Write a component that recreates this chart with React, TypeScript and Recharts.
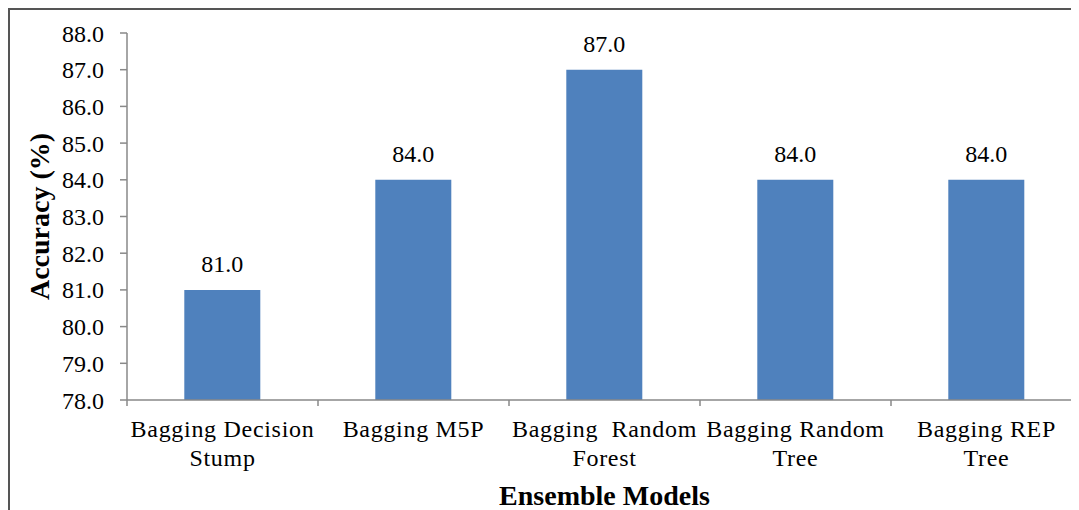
import { Bar, BarChart, LabelList, XAxis, YAxis } from "recharts";

const models = [
  "Bagging Decision Stump",
  "Bagging M5P",
  "Bagging  Random Forest",
  "Bagging Random Tree",
  "Bagging REP Tree",
];
const modelTickLines = [
  ["Bagging Decision", "Stump"],
  ["Bagging M5P"],
  ["Bagging\u00a0 Random", "Forest"],
  ["Bagging Random", "Tree"],
  ["Bagging REP", "Tree"],
];
const accuracy = [81.0, 84.0, 87.0, 84.0, 84.0];
const accuracyTicks = [78, 79, 80, 81, 82, 83, 84, 85, 86, 87, 88];

const data = models.map((model, i) => ({ model, accuracy: accuracy[i] }));

const FONT = '"Liberation Serif", "Times New Roman", serif';
const AXIS = "#898989";
const BAR = "#4F81BD";

function ModelTick(props: any) {
  const { x, y, payload, width } = props;
  const idx = models.indexOf(payload.value);
  const half = payload.offset ?? width / (models.length * 2);
  const lines = modelTickLines[idx] ?? [String(payload.value)];
  return (
    <g>
      <line x1={x - half} y1={y} x2={x - half} y2={y + 6} stroke={AXIS} strokeWidth={1.5} />
      {idx === models.length - 1 && (
        <line x1={x + half} y1={y} x2={x + half} y2={y + 6} stroke={AXIS} strokeWidth={1.5} />
      )}
      <text
        x={x}
        y={y + 37}
        textAnchor="middle"
        fontFamily={FONT}
        fontSize={24}
        letterSpacing={0.7}
        fill="#000"
      >
        {lines.map((line, i) => (
          <tspan key={i} x={x} dy={i === 0 ? 0 : 28.5}>
            {line}
          </tspan>
        ))}
      </text>
    </g>
  );
}

export default function App() {
  return (
    <div style={{ width: 1071, height: 502, overflow: "hidden" }}>
      <div
        style={{
          width: 1110,
          height: 520,
          borderTop: "2px solid #555",
          borderLeft: "2px solid #555",
          boxSizing: "border-box",
        }}
      >
        <BarChart
          width={1100}
          height={500}
          data={data}
          margin={{ top: 23, right: 28, bottom: 0, left: 0 }}
          barCategoryGap="30%"
        >
          <XAxis
            dataKey="model"
            height={110}
            tickLine={false}
            tickSize={0}
            tickMargin={0}
            tick={<ModelTick />}
            axisLine={{ stroke: AXIS, strokeWidth: 1.5 }}
            interval={0}
            label={{
              content: ({ viewBox }: any) => (
                <text
                  x={viewBox.x + viewBox.width / 2}
                  y={viewBox.y + 105}
                  textAnchor="middle"
                  fontFamily={FONT}
                  fontSize={28}
                  fontWeight="bold"
                  fill="#000"
                >
                  Ensemble Models
                </text>
              ),
            }}
          />
          <YAxis
            width={117}
            domain={[78, 88]}
            ticks={accuracyTicks}
            tickFormatter={(v: number) => v.toFixed(1)}
            tickSize={7}
            tickMargin={16}
            tickLine={{ stroke: AXIS, strokeWidth: 1.5 }}
            axisLine={{ stroke: AXIS, strokeWidth: 1.5 }}
            tick={{ fontFamily: FONT, fontSize: 24, fill: "#000" }}
            allowDataOverflow
            label={{
              content: ({ viewBox }: any) => {
                const cx = 29;
                const cy = viewBox.y + viewBox.height / 2;
                return (
                  <text
                    x={cx}
                    y={cy}
                    transform={`rotate(-90, ${cx}, ${cy})`}
                    textAnchor="middle"
                    dominantBaseline="central"
                    fontFamily={FONT}
                    fontSize={28}
                    fontWeight="bold"
                    fill="#000"
                  >
                    Accuracy (%)
                  </text>
                );
              },
            }}
          />
          <Bar dataKey="accuracy" fill={BAR} isAnimationActive={false}>
            <LabelList
              dataKey="accuracy"
              position="top"
              offset={18}
              formatter={(v: any) => Number(v).toFixed(1)}
              style={{ fontFamily: FONT, fontSize: 24, fill: "#000" }}
            />
          </Bar>
        </BarChart>
      </div>
    </div>
  );
}
